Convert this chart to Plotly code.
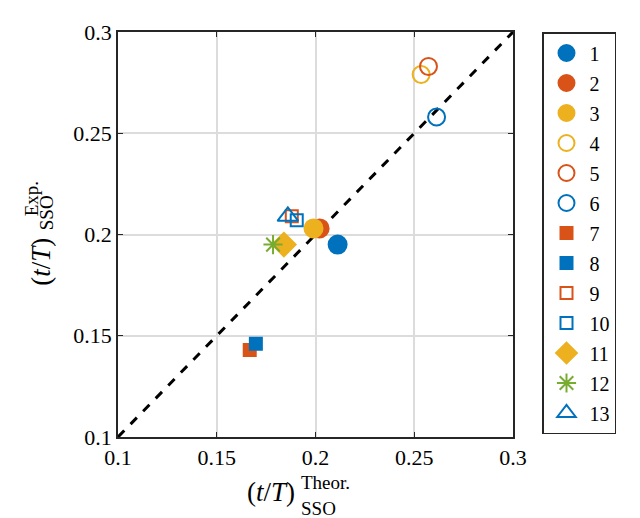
import plotly.graph_objects as go

# ---- data ----
labels = ["1", "2", "3", "4", "5", "6", "7", "8", "9", "10", "11", "12", "13"]
x_theor = [0.2112, 0.2021, 0.1990, 0.2535, 0.2572, 0.2613, 0.1667, 0.1698, 0.1880, 0.1905, 0.1840, 0.1785, 0.1860]
y_exp = [0.1950, 0.2030, 0.2030, 0.2790, 0.2830, 0.2580, 0.1430, 0.1460, 0.2090, 0.2070, 0.1950, 0.1950, 0.2090]
symbols = ["circle", "circle", "circle", "circle-open", "circle-open", "circle-open",
           "square", "square", "square-open", "square-open", "diamond", "asterisk-open", "triangle-up-open"]
colors = ["#0072BD", "#D95319", "#EDB120", "#EDB120", "#D95319", "#0072BD",
          "#D95319", "#0072BD", "#D95319", "#0072BD", "#EDB120", "#77AC30", "#0072BD"]
sizes = [18, 18, 18, 17, 17, 17, 12, 12, 12, 12, 18, 16, 18]
ref_line = [0.1, 0.3]
tick_vals = [0.1, 0.15, 0.2, 0.25, 0.3]
tick_text = ["0.1", "0.15", "0.2", "0.25", "0.3"]

FONT = "Liberation Serif"
AX = "#262626"

fig = go.Figure()
fig.add_trace(go.Scatter(x=ref_line, y=ref_line, mode="lines",
                         line=dict(color="black", width=3, dash="dash"),
                         showlegend=False, hoverinfo="skip"))
for i, lab in enumerate(labels):
    fig.add_trace(go.Scatter(
        x=[x_theor[i]], y=[y_exp[i]], mode="markers", name=lab,
        legendgroup=lab,
        marker=dict(symbol=symbols[i], size=sizes[i], color=colors[i],
                    line=dict(color=colors[i], width=2))))

OFF = 8  # page body margin
W, H = 640 - OFF, 518 - OFF
L, T = 118 - OFF, 28 - OFF
pw, ph = 395, 409
R, B = W - L - pw, H - T - ph

def px(x):
    return (x - OFF - L) / pw

def py(y):
    return (H - B - (y - OFF)) / ph

annotations = [
    dict(text="(<i>t</i>/<i>T</i>)", x=px(271), y=py(493), font=dict(size=27)),
    dict(text="Theor.", x=px(299), y=py(483), xanchor="left", font=dict(size=19)),
    dict(text="SSO", x=px(299), y=py(509), xanchor="left", font=dict(size=19)),
    dict(text="(<i>t</i>/<i>T</i>)", x=px(41), y=py(260), textangle=-90, font=dict(size=27)),
    dict(text="Exp.", x=px(31), y=py(197), textangle=-90, font=dict(size=19)),
    dict(text="SSO", x=px(46), y=py(211), textangle=-90, font=dict(size=19)),
]
for a in annotations:
    a.setdefault("xanchor", "center")
    a.update(xref="paper", yref="paper", showarrow=False, yanchor="middle")
    a["font"].update(family=FONT, color="black")

axis_common = dict(range=[0.1, 0.3], tickvals=tick_vals, ticktext=tick_text,
                   showgrid=True, gridcolor="#dcdcdc", gridwidth=1.5,
                   zeroline=False, showline=True, linecolor=AX, linewidth=1.5,
                   mirror="ticks", ticks="inside", ticklen=5, tickcolor=AX,
                   tickfont=dict(family=FONT, size=22, color="black"))

fig.update_layout(
    width=W, height=H,
    margin=dict(l=L, r=R, t=T, b=B),
    paper_bgcolor="white", plot_bgcolor="white",
    xaxis=axis_common, yaxis=axis_common,
    annotations=annotations,
    showlegend=True,
    legend=dict(x=(542 - 118) / pw, y=1.0,
                xanchor="left", yanchor="top",
                bordercolor=AX, borderwidth=1.5, bgcolor="white",
                font=dict(family=FONT, size=20, color="black"),
                traceorder="grouped", tracegroupgap=1,
                itemwidth=36),
)

fig.write_html("out.html")
